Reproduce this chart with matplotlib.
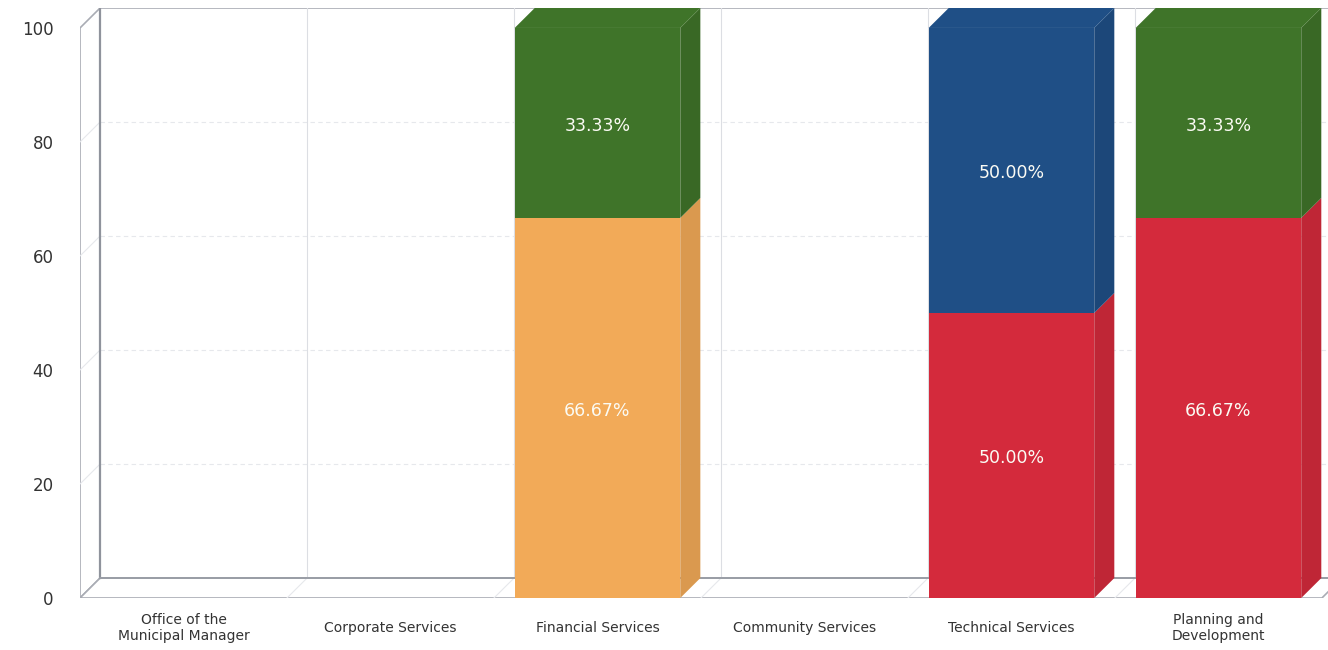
import matplotlib
matplotlib.use("Agg")
import numpy as np
import matplotlib.pyplot as plt
from matplotlib.patches import Polygon, Rectangle
from matplotlib.colors import to_rgb

# data
categories = ["Office of the\nMunicipal Manager", "Corporate Services",
              "Financial Services", "Community Services",
              "Technical Services", "Planning and\nDevelopment"]
red_vals = [0, 0, 0, 0, 50.00, 66.67]
orange_vals = [0, 0, 66.67, 0, 0, 0]
blue_vals = [0, 0, 0, 0, 50.00, 0]
green_vals = [0, 0, 33.33, 0, 0, 33.33]
y_ticks = [0, 20, 40, 60, 80, 100]

series = [
    (red_vals, "#d42a3c"),
    (orange_vals, "#f2aa58"),
    (blue_vals, "#1f4f86"),
    (green_vals, "#3f7429"),
]

# fake 3d depth in data units
dx, dy = 0.097, 3.5
w = 0.80
n = len(categories)


def darker(c, f=0.85):
    r, g, b = to_rgb(c)
    return (r * f, g * f, b * f)


fig = plt.figure(figsize=(13.28, 6.5), dpi=100)
ax = fig.add_axes([80 / 1328, 52 / 650, 1262 / 1328, 590 / 650])
ax.set_xlim(-0.5, n - 0.5 + dx)
ax.set_ylim(0, 100 + dy)
for s in ax.spines.values():
    s.set_visible(False)

wall = "#a9acb4"
x0, x1 = -0.5, n - 0.5

# back wall
ax.add_patch(Rectangle((x0 + dx, dy), x1 - x0, 100, facecolor="white",
                       edgecolor=wall, lw=1.2, zorder=0))
# left wall
ax.add_patch(Polygon([(x0, 0), (x0, 100), (x0 + dx, 100 + dy), (x0 + dx, dy)],
                     closed=True, facecolor="white", edgecolor=wall, lw=1.2, zorder=1))
# floor
ax.add_patch(Polygon([(x0, 0), (x1, 0), (x1 + dx, dy), (x0 + dx, dy)],
                     closed=True, facecolor="white", edgecolor=wall, lw=1.2, zorder=1))

# gridlines on back wall and left wall
for v in y_ticks[1:-1]:
    ax.plot([x0 + dx, x1 + dx], [v + dy, v + dy], color="#e6e8ec", lw=0.8,
            ls=(0, (4, 3)), zorder=0.5)
    ax.plot([x0, x0 + dx], [v, v + dy], color="#e6e8ec", lw=0.8, zorder=1.5)
for k in range(1, n):
    ax.plot([k - 0.5 + dx, k - 0.5 + dx], [dy, 100 + dy], color="#dcdee3",
            lw=0.8, zorder=0.5)
    ax.plot([k - 0.5, k - 0.5 + dx], [0, dy], color="#e6e8ec", lw=0.8, zorder=1.5)
ax.plot([x0 + dx, x0 + dx], [dy, 100 + dy], color="#8f939c", lw=1.6, zorder=1.6)
ax.plot([x0 + dx, x1 + dx], [dy, dy], color="#9a9ea6", lw=1.4, zorder=1.6)

# stacked pseudo-3d bars
bottoms = np.zeros(n)
tops_color = [None] * n
for vals, col in series:
    for i, v in enumerate(vals):
        if v <= 0:
            continue
        b = bottoms[i]
        t = b + v
        xl, xr = i - w / 2, i + w / 2
        ax.add_patch(Rectangle((xl, b), w, v, facecolor=col, edgecolor="none", zorder=3))
        ax.add_patch(Polygon([(xr, b), (xr + dx, b + dy), (xr + dx, t + dy), (xr, t)],
                             closed=True, facecolor=darker(col, 0.9), edgecolor="none", zorder=3))
        ax.text(i, b + v / 2 - 0.5, f"{v:.2f}%", ha="center", va="center",
                color="#fbfbf4", fontsize=12.5, zorder=5)
        tops_color[i] = (t, col)
    bottoms = bottoms + np.array(vals)

for i, tc in enumerate(tops_color):
    if tc is None:
        continue
    t, col = tc
    xl, xr = i - w / 2, i + w / 2
    ax.add_patch(Polygon([(xl, t), (xr, t), (xr + dx, t + dy), (xl + dx, t + dy)],
                         closed=True, facecolor=col, edgecolor="none", zorder=3))

ax.set_xticks(range(n))
ax.set_xticklabels(categories, fontsize=10, color="#333333", va="center",
                   linespacing=1.2)
ax.set_yticks(y_ticks)
ax.set_yticklabels([str(v) for v in y_ticks], fontsize=12, color="#333333")
ax.tick_params(axis="x", length=0, pad=21.6)
ax.tick_params(axis="y", length=0, pad=19)

fig.savefig("out.png", dpi=100)
